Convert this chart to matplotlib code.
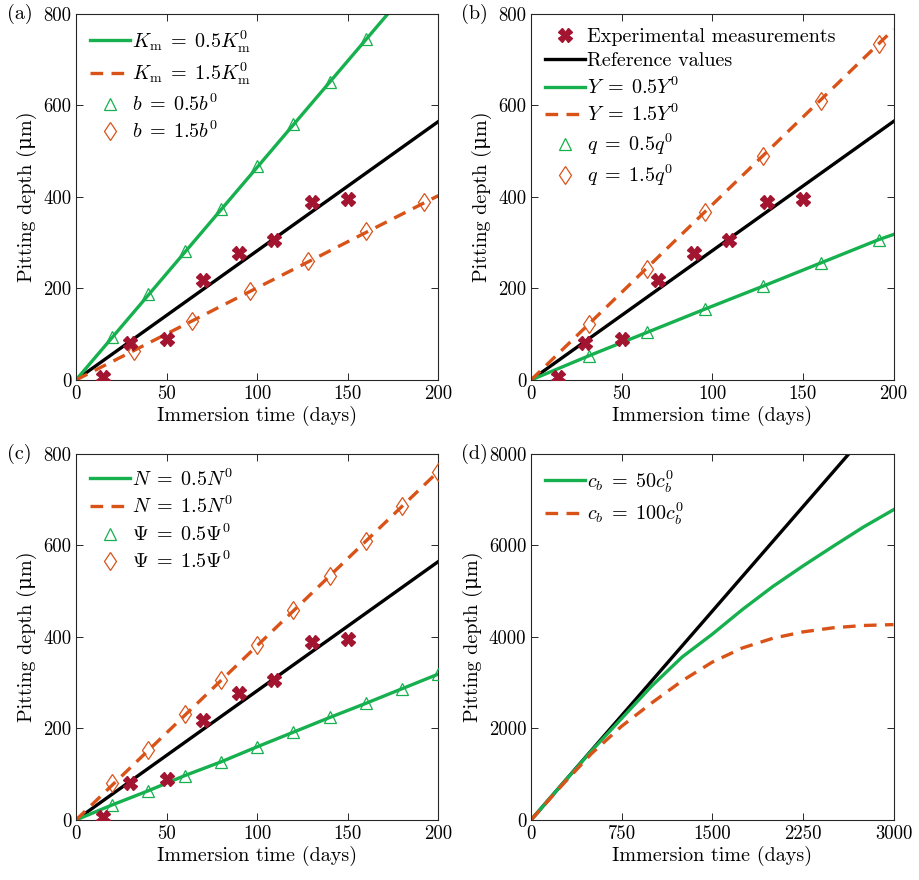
import matplotlib
matplotlib.use('Agg')
import matplotlib.pyplot as plt

# Estilo tipo LaTeX (Computer Modern incluida en matplotlib)
plt.rcParams['font.family'] = ['cmr10', 'DejaVu Serif']
plt.rcParams['mathtext.fontset'] = 'cm'
plt.rcParams['axes.unicode_minus'] = False
plt.rcParams['font.size'] = 14.5

GREEN = '#16B04E'
ORANGE = '#D95319'
CROSS = '#A2142F'
DASH = (0, (3.8, 2.5))

# --- Datos experimentales y referencia (paneles a-c) ---
exp_t = [15, 30, 50, 70, 90, 109, 130, 150]
exp_d = [6, 80, 90, 218, 277, 307, 389, 396]
ref_t = [0, 200]
ref_d = [0, 565]

# --- Panel (a) ---
a_km05_t = [0, 200]
a_km05_d = [0, 930]
a_km15_t = [0, 200]
a_km15_d = [0, 403]
a_b05_t = [20, 40, 60, 80, 100, 120, 140, 160]
a_b05_d = [95, 188, 281, 374, 467, 560, 652, 745]
a_b15_t = [32, 64, 96, 128, 160, 192]
a_b15_d = [63, 129, 194, 259, 325, 389]

# --- Panel (b) ---
b_y05_t = [0, 32, 64, 96, 128, 160, 192, 200]
b_y05_d = [0, 53, 104, 155, 205, 256, 307, 318]
b_y15_t = [0, 200]
b_y15_d = [0, 766]
b_q05_t = [32, 64, 96, 128, 160, 192]
b_q05_d = [53, 104, 155, 205, 256, 307]
b_q15_t = [32, 64, 96, 128, 160, 192]
b_q15_d = [123, 243, 367, 489, 610, 734]

# --- Panel (c) ---
c_n05_t = [0, 20, 40, 60, 80, 100, 120, 140, 160, 180, 200]
c_n05_d = [0, 33, 64, 97, 127, 160, 192, 224, 255, 287, 319]
c_n15_t = [0, 200]
c_n15_d = [0, 762]
c_psi05_t = [20, 40, 60, 80, 100, 120, 140, 160, 180, 200]
c_psi05_d = [33, 64, 97, 127, 160, 192, 224, 255, 287, 319]
c_psi15_t = [20, 40, 60, 80, 100, 120, 140, 160, 180, 200]
c_psi15_d = [80, 153, 232, 306, 382, 458, 533, 610, 686, 761]

# --- Panel (d) ---
d_ref_t = [0, 2630]
d_ref_d = [0, 8000]
d_t = [0, 250, 500, 750, 1000, 1250, 1500, 1750, 2000, 2250, 2500, 2750, 3000]
d_cb50 = [0, 760, 1510, 2220, 2930, 3560, 4060, 4600, 5100, 5550, 5980, 6400, 6780]
d_cb100 = [0, 740, 1450, 2050, 2560, 3040, 3450, 3760, 3970, 4110, 4200, 4250, 4270]


def style_axes(ax, xmax, xticks, ymax, yticks, tag):
    ax.set_xlim(0, xmax)
    ax.set_ylim(0, ymax)
    ax.set_xticks(xticks)
    ax.set_yticks(yticks)
    ax.tick_params(direction='in', top=True, right=True, length=5, width=0.7,
                   colors='#262626', labelcolor='black', labelsize=13.5)
    for s in ax.spines.values():
        s.set_linewidth(0.8)
        s.set_color('#262626')
    ax.set_xlabel('Immersion time (days)', labelpad=2)
    ax.set_ylabel('Pitting depth (\u03bcm)', labelpad=4)
    ax.text(-0.155, 1.0, tag, transform=ax.transAxes, ha='center', va='center')


def line(ax, t, d, color, dashed=False, z=2):
    return ax.plot(t, d, color=color, lw=2.4, linestyle=DASH if dashed else '-',
                   zorder=z)[0]


def marks(ax, t, d, marker, color, ms):
    return ax.plot(t, d, linestyle='none', marker=marker, ms=ms, mfc='none',
                   mec=color, mew=0.9, zorder=4)[0]


def crosses(ax):
    return ax.plot(exp_t, exp_d, linestyle='none', marker='X', ms=10,
                   color=CROSS, mec=CROSS, zorder=5)[0]


def legend(ax, handles, labels):
    ax.legend(handles, labels, loc='upper left', frameon=False, handlelength=2.0,
              handletextpad=0.1, labelspacing=0.3, borderaxespad=0.3, fontsize=14.5)


fig = plt.figure(figsize=(9.2, 8.8), dpi=100)
W, H = 0.394, 0.416
ax_a = fig.add_axes([0.0826, 0.5682, W, H])
ax_b = fig.add_axes([0.5772, 0.5682, W, H])
ax_c = fig.add_axes([0.0826, 0.0682, W, H])
ax_d = fig.add_axes([0.5772, 0.0682, W, H])

small_x = [0, 50, 100, 150, 200]
small_y = [0, 200, 400, 600, 800]

# (a)
line(ax_a, ref_t, ref_d, 'black')
h1 = line(ax_a, a_km05_t, a_km05_d, GREEN)
h2 = line(ax_a, a_km15_t, a_km15_d, ORANGE, dashed=True)
h3 = marks(ax_a, a_b05_t, a_b05_d, '^', GREEN, 9)
h4 = marks(ax_a, a_b15_t, a_b15_d, 'd', ORANGE, 9.5)
crosses(ax_a)
style_axes(ax_a, 200, small_x, 800, small_y, '(a)')
legend(ax_a, [h1, h2, h3, h4],
       [r'$K_\mathrm{m}\;=\;0.5K_\mathrm{m}^0$', r'$K_\mathrm{m}\;=\;1.5K_\mathrm{m}^0$',
        r'$b\;=\;0.5b^0$', r'$b\;=\;1.5b^0$'])

# (b)
hr = line(ax_b, ref_t, ref_d, 'black')
h1 = line(ax_b, b_y05_t, b_y05_d, GREEN)
h2 = line(ax_b, b_y15_t, b_y15_d, ORANGE, dashed=True)
h3 = marks(ax_b, b_q05_t, b_q05_d, '^', GREEN, 9)
h4 = marks(ax_b, b_q15_t, b_q15_d, 'd', ORANGE, 9.5)
hx = crosses(ax_b)
style_axes(ax_b, 200, small_x, 800, small_y, '(b)')
legend(ax_b, [hx, hr, h1, h2, h3, h4],
       ['Experimental measurements', 'Reference values',
        r'$Y\;=\;0.5Y^0$', r'$Y\;=\;1.5Y^0$', r'$q\;=\;0.5q^0$', r'$q\;=\;1.5q^0$'])

# (c)
line(ax_c, ref_t, ref_d, 'black')
h1 = line(ax_c, c_n05_t, c_n05_d, GREEN)
h2 = line(ax_c, c_n15_t, c_n15_d, ORANGE, dashed=True)
h3 = marks(ax_c, c_psi05_t, c_psi05_d, '^', GREEN, 9)
h4 = marks(ax_c, c_psi15_t, c_psi15_d, 'd', ORANGE, 9.5)
crosses(ax_c)
style_axes(ax_c, 200, small_x, 800, small_y, '(c)')
legend(ax_c, [h1, h2, h3, h4],
       [r'$N\;=\;0.5N^0$', r'$N\;=\;1.5N^0$',
        r'$\Psi\;=\;0.5\Psi^0$', r'$\Psi\;=\;1.5\Psi^0$'])

# (d)
line(ax_d, d_ref_t, d_ref_d, 'black')
h1 = line(ax_d, d_t, d_cb50, GREEN)
h2 = line(ax_d, d_t, d_cb100, ORANGE, dashed=True)
style_axes(ax_d, 3000, [0, 750, 1500, 2250, 3000], 8000, [0, 2000, 4000, 6000, 8000], '(d)')
legend(ax_d, [h1, h2], [r'$c_b\;=\;50c_b^0$', r'$c_b\;=\;100c_b^0$'])

plt.savefig('out.png', dpi=100)
plt.close()
